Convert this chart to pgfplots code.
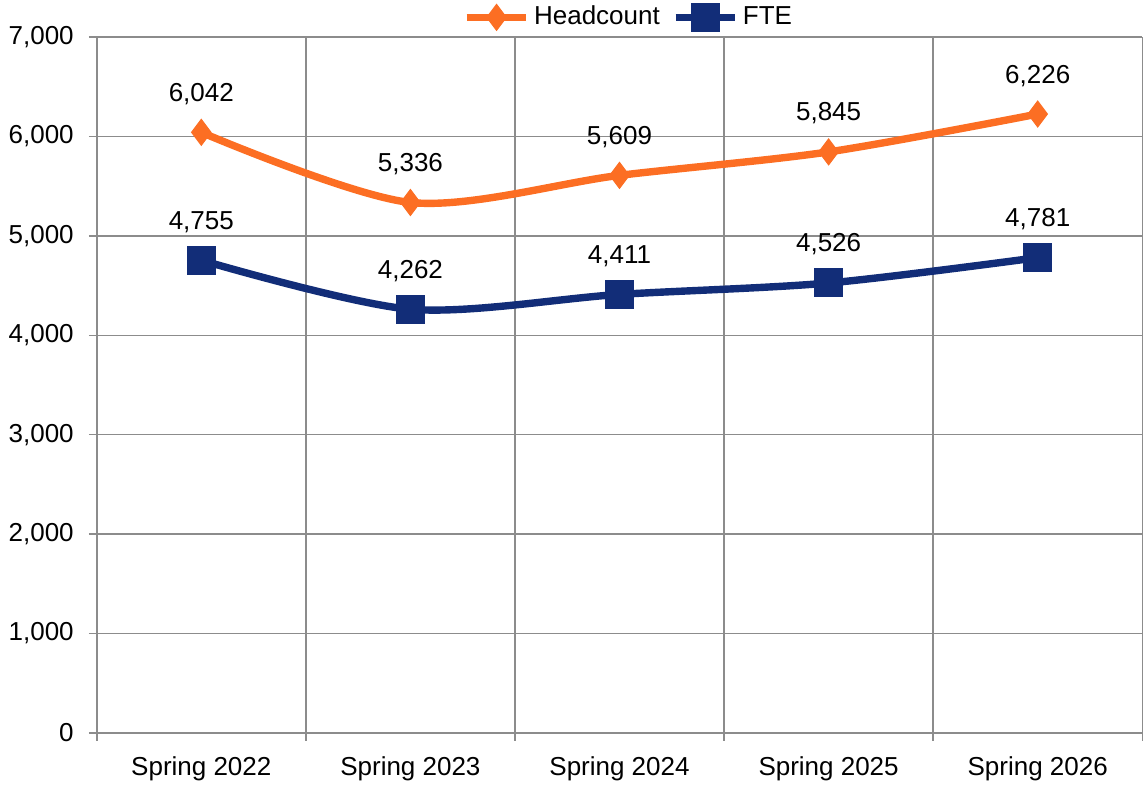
\documentclass[border=0pt]{standalone}
\usepackage{pgfplots}
\pgfplotsset{compat=1.18}
\usepackage{fontspec}
\setmainfont{Liberation Sans}
\definecolor{hcorange}{RGB}{252,110,35}
\definecolor{ftenavy}{RGB}{18,45,120}
\definecolor{gridgray}{RGB}{140,140,140}
\begin{document}
\fontsize{13}{15}\selectfont
\begin{tikzpicture}
\begin{axis}[
  scale only axis, width=523pt, height=348pt,
  xmin=-0.5, xmax=4.5, ymin=0, ymax=7000,
  xtick={0,1,2,3,4},
  xticklabels={Spring 2022,Spring 2023,Spring 2024,Spring 2025,Spring 2026},
  minor xtick={-0.5,0.5,1.5,2.5,3.5,4.5},
  major x tick style={draw=none},
  ytick={0,1000,2000,3000,4000,5000,6000,7000},
  xminorgrids=true, ymajorgrids=true,
  grid style={gridgray, line width=0.75pt},
  minor grid style={gridgray, line width=0.75pt},
  axis lines*=left,
  axis line style={gridgray, line width=0.75pt},
  tick style={gridgray, line width=0.75pt},
  tick align=outside, major tick length=4pt, minor tick length=4pt,
  /pgf/number format/assume math mode=true,
  /pgf/number format/.cd, fixed, 1000 sep={,}, /pgfplots/.cd,
  yticklabel style={font=\fontsize{13}{15}\selectfont, xshift=-3pt},
  xticklabel style={font=\fontsize{13}{15}\selectfont, yshift=-3.5pt},
  legend style={at={(0.5,1)}, anchor=south, draw=none, fill=none,
    font=\fontsize{13}{15}\selectfont, inner sep=1pt, yshift=1pt, xshift=5pt},
  legend columns=2,
  legend cell align=left,
  /tikz/every even column/.append style={column sep=4pt},
  legend image code/.code={
    \draw[#1, mark=none] (0cm,0cm) -- (1.05cm,0cm);
    \draw[#1, only marks] plot coordinates {(0.525cm,0cm)};
  },
  nodes near coords,
  nodes near coords style={anchor=base, yshift=15.5pt, text=black,
    font=\fontsize{13}{15}\selectfont},
  clip=false,
]
\addplot[hcorange, line width=3.7pt, smooth, mark=diamond*,
  mark size=6.5pt, mark options={solid, line width=0.5pt, fill=hcorange}]
  coordinates {(0,6042) (1,5336) (2,5609) (3,5845) (4,6226)};
\addlegendentry{Headcount}
\addplot[ftenavy, line width=3.7pt, smooth, mark=square*,
  mark size=7pt, mark options={solid, line width=0.5pt, fill=ftenavy}]
  coordinates {(0,4755) (1,4262) (2,4411) (3,4526) (4,4781)};
\addlegendentry{FTE}
\end{axis}
\end{tikzpicture}
\end{document}
